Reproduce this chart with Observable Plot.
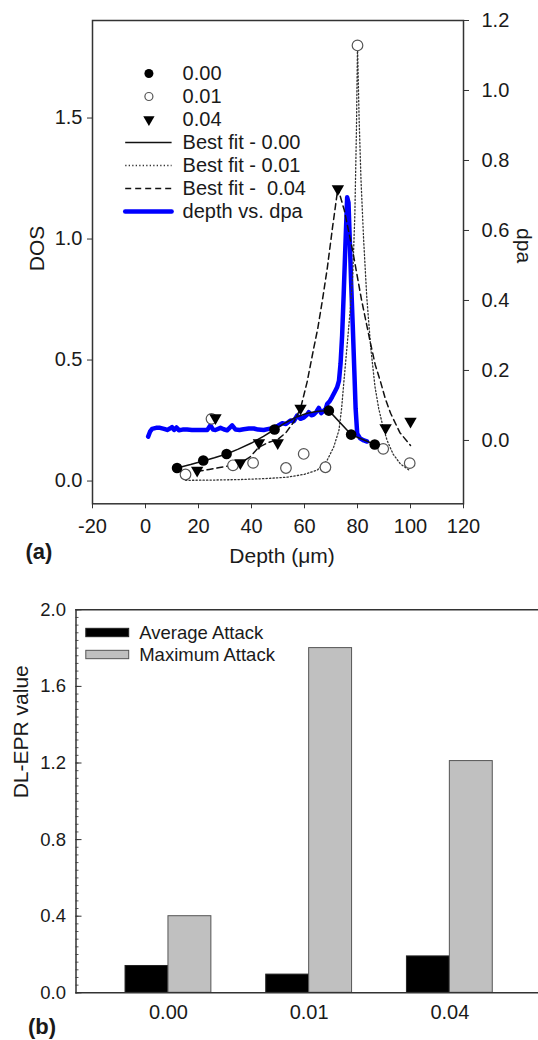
<!DOCTYPE html>
<html><head><meta charset="utf-8">
<script src="https://cdn.jsdelivr.net/npm/d3@7"></script>
<script src="https://cdn.jsdelivr.net/npm/@observablehq/plot@0.6"></script>
<style>
body{margin:0;background:#fff;}
#wrap{position:relative;width:538px;height:1040px;overflow:hidden;background:#fff;}
#wrap svg{position:absolute;left:0;font-family:"Liberation Sans",Arial,sans-serif;}
#wrap svg text{white-space:pre;}
</style></head><body><div id="wrap"></div>
<script>
// ---------- DATA (panel a) ----------
// symbols: [depth (µm), DOS]
const pts000 = [[11.9,0.054],[21.8,0.085],[30.6,0.112],[48.7,0.213],[69.2,0.291],[77.6,0.192],[86.5,0.151]];
const pts001 = [[15.1,0.027],[24.9,0.257],[33.0,0.065],[40.6,0.075],[53.0,0.054],[59.7,0.112],[67.9,0.057],[80.0,1.80],[89.7,0.133],[99.7,0.074]];
const pts004 = [[19.5,0.044],[26.4,0.261],[35.8,0.075],[42.8,0.158],[49.9,0.158],[58.5,0.301],[72.6,1.207],[90.6,0.220],[100,0.247]];
// best-fit curves: [depth, DOS]
const fit000 = [[11.9,0.054],[17,0.068],[21.8,0.083],[26,0.096],[30.6,0.112],[35,0.132],[40,0.157],[44.5,0.185],[48.7,0.213],[53,0.242],[57,0.265],[61,0.28],[65,0.288],[69.2,0.291],[77.6,0.192],[86.5,0.151]];
const fit001 = [[15.1,0.003],[25,0.004],[35,0.006],[45,0.01],[53.5,0.016],[60,0.028],[64.8,0.045],[68.5,0.085],[71,0.14],[73,0.21],[74,0.3],[74.9,0.415],[76,0.55],[77.2,0.7],[78.2,0.85],[79,1.1],[79.6,1.45],[80,1.8],[80.6,1.5],[81.3,1.25],[82.3,1.0],[83.5,0.76],[85,0.55],[86.6,0.39],[88,0.3],[89.5,0.23],[91.2,0.167],[93.5,0.11],[96.2,0.071],[99.7,0.043]];
const fit004 = [[19.5,0.040],[24,0.048],[28,0.056],[32,0.064],[35.8,0.075],[39.5,0.1],[42.8,0.14],[46.5,0.16],[49.9,0.172],[53,0.2],[56,0.245],[58.5,0.3],[61,0.41],[63.5,0.55],[65,0.63],[66.8,0.75],[68.6,0.88],[70.6,1.05],[72.6,1.21],[75,1.12],[78.2,0.95],[81.5,0.75],[84.7,0.58],[86.7,0.48],[88.7,0.41],[90.5,0.34],[92.5,0.28],[96,0.2],[100,0.147]];
// depth vs. dpa (right axis): [depth, dpa]
const dpaProfile = [[1.0,0.011],[1.7,0.025],[2.5,0.033],[4,0.036],[5.5,0.036],[7,0.033],[8.2,0.030],[9.2,0.034],[10,0.038],[10.8,0.030],[11.7,0.037],[12.6,0.029],[14,0.031],[15.7,0.031],[17.5,0.030],[19.5,0.030],[21.5,0.030],[23.3,0.030],[24.5,0.043],[25.5,0.031],[26.4,0.030],[28.3,0.036],[29.5,0.032],[30.8,0.029],[32.7,0.043],[34,0.031],[35.5,0.030],[37,0.032],[39,0.034],[40.9,0.034],[42.5,0.031],[44.6,0.030],[46.5,0.033],[48.4,0.036],[50,0.042],[51.6,0.049],[53,0.047],[54.7,0.057],[56,0.055],[57.2,0.071],[58.5,0.062],[59.7,0.065],[61,0.074],[61.6,0.081],[62.6,0.072],[63.5,0.074],[64.5,0.082],[65.4,0.093],[66.3,0.078],[67,0.083],[68,0.09],[68.6,0.105],[69.5,0.112],[70.4,0.124],[71.5,0.14],[72.3,0.152],[73,0.17],[73.6,0.219],[74.2,0.3],[74.8,0.42],[75.4,0.55],[76.1,0.695],[76.6,0.68],[77.1,0.57],[77.6,0.45],[78.2,0.33],[78.8,0.2],[79.3,0.09],[79.9,0.019],[81,0.006],[82.4,0.0],[83.6,-0.003]];
const xTicks = [-20,0,20,40,60,80,100,120];
const dosTicks = [0,0.5,1.0,1.5];
const dpaTicks = [0,0.2,0.4,0.6,0.8,1.0,1.2];
const legendA = ["0.00","0.01","0.04","Best fit - 0.00","Best fit - 0.01","Best fit -  0.04","depth vs. dpa"];

// ---------- DATA (panel b) ----------
const categories = ["0.00","0.01","0.04"];
const averageAttack = [0.14,0.095,0.19];
const maximumAttack = [0.40,1.80,1.21];
const barTicks = [0,0.4,0.8,1.2,1.6,2.0];
const legendB = ["Average Attack","Maximum Attack"];

// ---------- helpers ----------
const FONT = '"Liberation Sans", Arial, sans-serif';
const DOS_DOMAIN = [-0.094, 1.903];
const DPA_DOMAIN = [-0.181, 1.2];
const dpaToDos = v => DOS_DOMAIN[0] + (v - DPA_DOMAIN[0]) / (DPA_DOMAIN[1]-DPA_DOMAIN[0]) * (DOS_DOMAIN[1]-DOS_DOMAIN[0]);
const dosToDpa = v => DPA_DOMAIN[0] + (v - DOS_DOMAIN[0]) / (DOS_DOMAIN[1]-DOS_DOMAIN[0]) * (DPA_DOMAIN[1]-DPA_DOMAIN[0]);
const f1 = v => { const r = Math.round(v*10)/10; return (r === 0 ? 0 : r).toFixed(1); };
const toXY = arr => arr.map(([x,y]) => ({x, y}));
const triDown = {draw(ctx, size){
  const a = Math.sqrt(size * 4 / Math.sqrt(3)), h = a * Math.sqrt(3) / 2;
  ctx.moveTo(-a/2, -h/3); ctx.lineTo(a/2, -h/3); ctx.lineTo(0, 2*h/3); ctx.closePath();
}};
const wrap = document.getElementById("wrap");
const AX = "#333";

// ---------- panel (a) ----------
const plotA = Plot.plot({
  width: 538, height: 580,
  marginTop: 20, marginBottom: 76.7, marginLeft: 92, marginRight: 75,
  x: {domain: [-20,120]},
  y: {domain: DOS_DOMAIN},
  style: {fontFamily: FONT, fontSize: "20px", color: "#1a1a1a", background: "transparent", overflow: "visible"},
  marks: [
    Plot.axisX({ticks: xTicks, tickFormat: d => String(d), tickSize: 5, tickPadding: 10, label: null, stroke: AX}),
    Plot.axisY({anchor: "left", ticks: dosTicks, tickFormat: d => d.toFixed(1), tickSize: 5, tickPadding: 5, label: null, stroke: AX}),
    Plot.axisY({anchor: "right", ticks: dpaTicks.map(dpaToDos), tickFormat: d => f1(dosToDpa(d)), tickSize: 5, tickPadding: 13, label: null, stroke: AX}),
    Plot.line(toXY(dpaProfile), {x: "x", y: d => dpaToDos(d.y), stroke: "#0000ff", strokeWidth: 4.5, strokeLinejoin: "round", strokeLinecap: "round"}),
    Plot.line(toXY(fit001), {x: "x", y: "y", stroke: "#333", strokeWidth: 1.3, strokeDasharray: "1.3,2.2"}),
    Plot.line(toXY(fit004), {x: "x", y: "y", stroke: "#111", strokeWidth: 1.5, strokeDasharray: "6,4"}),
    Plot.line(toXY(fit000), {x: "x", y: "y", stroke: "#111", strokeWidth: 1.5}),
    Plot.dot(toXY(pts001), {x: "x", y: "y", r: 5.3, stroke: "#555", strokeWidth: 1.2, fill: "white"}),
    Plot.dot(toXY(pts004), {x: "x", y: "y", r: 4.6, symbol: triDown, fill: "#000", stroke: "none"}),
    Plot.dot(toXY(pts000), {x: "x", y: "y", r: 5.3, fill: "#000", stroke: "none"}),
    Plot.frame({stroke: AX, strokeWidth: 1.5}),
    Plot.text(["Depth (μm)"], {text: d => d, frameAnchor: "bottom", dx: 4, dy: 59, fontSize: 21}),
    Plot.text(["DOS"], {text: d => d, frameAnchor: "left", dx: -55, dy: 9, rotate: -90, fontSize: 21}),
    Plot.text(["dpa"], {text: d => d, frameAnchor: "right", dx: 60, dy: 1, rotate: 90, fontSize: 21}),
    Plot.text(["(a)"], {text: d => d, frameAnchor: "bottom-left", dx: -67, dy: 55, fontSize: 22, fontWeight: "bold"})
  ]
});
plotA.style.top = "0px";
wrap.appendChild(plotA);

// legend for (a)
const legA = Plot.plot({
  width: 538, height: 240,
  marginTop: 70.7, marginBottom: 26.5, marginLeft: 125.2, marginRight: 366.4,
  x: {domain: [0,1], axis: null},
  y: {type: "point", domain: legendA, padding: 0, axis: null},
  style: {fontFamily: FONT, fontSize: "20px", color: "#1a1a1a", background: "transparent", overflow: "visible"},
  marks: [
    Plot.dot([legendA[0]], {x: 0.5, y: d => d, r: 4.5, fill: "#000", stroke: "none"}),
    Plot.dot([legendA[1]], {x: 0.5, y: d => d, r: 4, fill: "white", stroke: "#555", strokeWidth: 1.2}),
    Plot.dot([legendA[2]], {x: 0.5, y: d => d, r: 4.2, symbol: triDown, fill: "#000", stroke: "none"}),
    Plot.ruleY([legendA[3]], {y: d => d, x1: 0, x2: 1, stroke: "#111", strokeWidth: 1.5}),
    Plot.ruleY([legendA[4]], {y: d => d, x1: 0, x2: 1, stroke: "#333", strokeWidth: 1.3, strokeDasharray: "1.3,2.2"}),
    Plot.ruleY([legendA[5]], {y: d => d, x1: 0, x2: 1, stroke: "#111", strokeWidth: 1.5, strokeDasharray: "6,4"}),
    Plot.ruleY([legendA[6]], {y: d => d, x1: 0, x2: 1, stroke: "#0000ff", strokeWidth: 4.5, strokeLinecap: "round"}),
    Plot.text(legendA, {x: 1, y: d => d, text: d => d, dx: 10.5, textAnchor: "start"})
  ]
});
legA.style.top = "0px";
wrap.appendChild(legA);

// ---------- panel (b) ----------
const B = {w: 538, h: 460, mt: 29.3, mb: 47.7, ml: 75.5, mr: 0, pi: 0.39, po: 0.3386};
const step = (B.w - B.ml - B.mr) / (categories.length - B.pi + 2 * B.po);
const halfBand = step * (1 - B.pi) / 2;
const bars = categories.map((c, i) => ({c, avg: averageAttack[i], max: maximumAttack[i]}));
const minorTicks = d3.range(0, 2.0001, 0.04);
const plotB = Plot.plot({
  width: B.w, height: B.h,
  marginTop: B.mt, marginBottom: B.mb, marginLeft: B.ml, marginRight: B.mr,
  x: {domain: categories, paddingInner: B.pi, paddingOuter: B.po, align: 0.52, round: false},
  y: {domain: [0, 2]},
  style: {fontFamily: FONT, fontSize: "18.5px", color: "#1a1a1a", background: "transparent", overflow: "visible"},
  marks: [
    Plot.barY(bars, {x: "c", y: "avg", fill: "#000", stroke: "#222", strokeWidth: 1, insetRight: halfBand}),
    Plot.barY(bars, {x: "c", y: "max", fill: "#c0c0c0", stroke: "#555", strokeWidth: 1, insetLeft: halfBand}),
    Plot.axisY({ticks: minorTicks, tickSize: -3, tickFormat: () => "", label: null, stroke: "#555"}),
    Plot.axisY({ticks: barTicks, tickSize: -6, tickPadding: 16, tickFormat: d => d.toFixed(1), label: null, stroke: AX}),
    Plot.axisX({tickSize: 0, tickPadding: 12, fontSize: 20, label: null}),
    Plot.ruleY([0, 2], {stroke: AX, strokeWidth: 1.5}),
    Plot.frame({anchor: "left", stroke: AX, strokeWidth: 1.5}),
    Plot.text(["DL-EPR value"], {text: d => d, frameAnchor: "left", dx: -55, dy: -3, rotate: -90, fontSize: 21}),
    Plot.text(["(b)"], {text: d => d, frameAnchor: "bottom-left", dx: -48, dy: 41, fontSize: 22, fontWeight: "bold"})
  ]
});
plotB.style.top = "580px";
wrap.appendChild(plotB);

// legend for (b)
const legB = Plot.plot({
  width: 538, height: 100,
  marginTop: 41.5, marginBottom: 14.5, marginLeft: 85.8, marginRight: 409.3,
  x: {domain: [0,1], axis: null},
  y: {domain: legendB, paddingInner: 0.62, paddingOuter: 0.31, axis: null, round: false},
  style: {fontFamily: FONT, fontSize: "18.5px", color: "#1a1a1a", background: "transparent", overflow: "visible"},
  marks: [
    Plot.barX([legendB[0]], {y: d => d, x1: 0, x2: 1, fill: "#000", stroke: "#222"}),
    Plot.barX([legendB[1]], {y: d => d, x1: 0, x2: 1, fill: "#c0c0c0", stroke: "#555"}),
    Plot.text(legendB, {x: 1, y: d => d, text: d => d, dx: 10, textAnchor: "start"})
  ]
});
legB.style.top = "580px";
wrap.appendChild(legB);
</script></body></html>
